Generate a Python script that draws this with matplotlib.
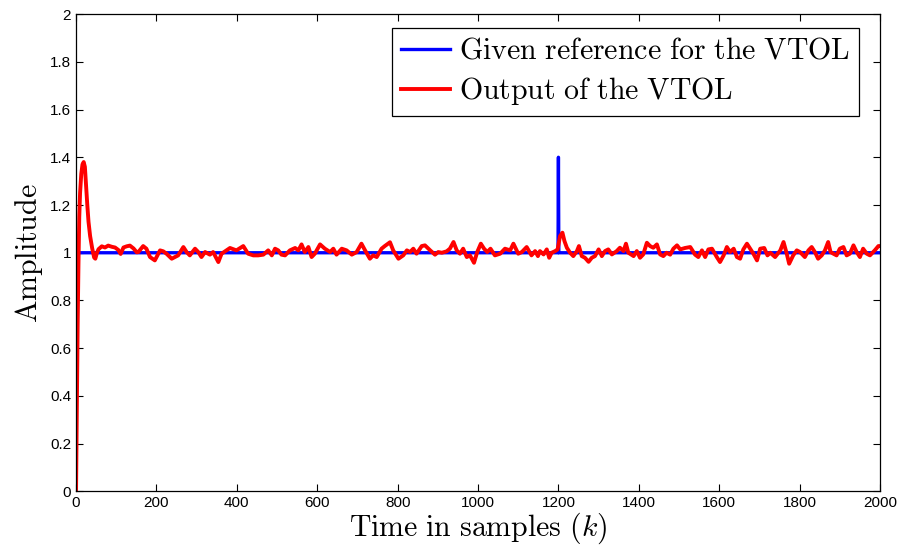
#!/usr/bin/env python

import matplotlib
matplotlib.use('Agg')
import matplotlib.pyplot as plt

# Data
refK   = [0, 1199, 1200, 1201, 2000]
refV   = [1.0, 1.0, 1.4, 1.0, 1.0]

outK   = [0, 2, 4, 6, 8, 10, 13, 16, 19, 22, 25, 28, 31, 35, 40, 45, 48, 52, 56,
          64, 72, 80, 89, 97, 105, 111, 118, 126, 134, 143, 151,
          155, 167, 175, 184, 196, 209, 217, 225, 238, 246, 254, 267, 275, 283,
          296, 304, 312, 321, 333, 341, 354, 362, 374, 383, 399, 416, 428, 441,
          453, 466,
          478, 487, 495, 503, 511, 520, 532, 545, 553, 561, 569, 578, 586, 594,
          607, 619, 632, 640, 648, 661, 673, 686, 698, 710, 719, 731, 739, 748,
          760, 768, 781, 789, 802,
          814, 823, 831, 839, 847, 860, 868, 881, 893, 901, 910, 922, 930, 939,
          947, 955, 963, 972, 980, 990, 998, 1007, 1015, 1023, 1031, 1042, 1055,
          1067, 1080, 1088, 1100, 1109, 1121, 1133,
          1142, 1149, 1154, 1163, 1171, 1177, 1183, 1192, 1198, 1204, 1210, 1215,
          1221, 1229, 1237, 1246, 1251, 1258, 1266, 1275, 1283, 1291, 1300, 1308,
          1316, 1324, 1333, 1345, 1353, 1362, 1368, 1374, 1387, 1395, 1403, 1411,
          1420, 1428, 1436, 1445, 1453, 1461, 1469,
          1478, 1486, 1495, 1503, 1515, 1528, 1540, 1548, 1557, 1565, 1573, 1582,
          1594, 1602, 1611, 1619, 1627, 1636, 1644, 1652, 1660, 1669, 1677, 1685,
          1694, 1702, 1712, 1720, 1727, 1739, 1752, 1760, 1768, 1774,
          1784, 1793, 1801, 1813, 1822, 1830, 1838, 1846, 1855, 1863, 1871, 1877,
          1884, 1892, 1900, 1909, 1917, 1925, 1934, 1942, 1950, 1958, 1967, 1975,
          1987, 1996, 2000]
outV   = [0.0, 0.35, 0.70, 0.95, 1.15, 1.25, 1.33, 1.37, 1.38, 1.36, 1.28, 1.20,
          1.13, 1.07, 1.02, 0.98, 0.975, 1.0, 1.015,
          1.027, 1.022, 1.030, 1.025, 1.022, 1.012, 0.995, 1.022, 1.027, 1.030,
          1.018, 1.002,
          1.003, 1.028, 1.017, 0.982, 0.968, 1.010, 1.006, 0.996, 0.975, 0.982,
          0.989, 1.024, 1.003, 0.989, 1.017, 1.003, 0.982, 1.003, 0.992, 1.003,
          0.961, 0.996, 1.010, 1.020, 1.010, 1.028, 0.996, 0.989, 0.989, 0.992,
          1.010, 0.989, 1.017, 1.010, 0.992, 0.989, 1.010, 1.020, 1.010, 1.035,
          1.003, 1.024, 0.982, 0.996, 1.035, 1.017, 1.003, 1.017, 0.992, 1.017,
          1.010, 0.992, 1.003, 1.038, 1.010, 0.975, 0.989, 0.982, 1.017, 1.028,
          1.044, 1.010, 0.975,
          0.989, 1.010, 1.003, 1.017, 0.996, 1.028, 1.031, 1.010, 0.992, 1.003,
          1.000, 1.006, 1.017, 1.045, 1.010, 0.996, 1.017, 0.982, 0.989, 0.958,
          1.003, 1.038, 1.017, 1.003, 1.017, 0.989, 0.996, 1.017, 1.010, 1.038,
          0.996, 1.003, 1.024, 0.989,
          1.007, 0.986, 1.007, 0.993, 1.014, 0.979, 1.000, 1.007, 1.014, 1.070,
          1.084, 1.049, 1.021, 1.000, 0.986, 1.007, 1.028, 0.986, 0.979, 0.962,
          0.979, 0.986, 1.014, 0.986, 1.007, 1.014, 0.993, 1.007, 1.021, 1.007,
          1.038, 1.000, 0.986, 1.007, 0.979, 0.993, 1.042, 1.028, 1.021, 1.035,
          0.993, 0.986, 1.000,
          0.992, 1.017, 1.031, 1.014, 1.020, 1.024, 0.992, 0.982, 1.010, 0.982,
          1.014, 1.017, 0.982, 0.961, 0.989, 1.024, 1.003, 1.017, 0.982, 0.975,
          1.014, 1.038, 1.017, 0.996, 0.968, 1.017, 1.020, 0.989, 1.000, 0.982,
          1.010, 1.045, 0.996, 0.954,
          0.989, 1.010, 1.003, 0.982, 1.010, 1.024, 1.003, 0.975, 0.989, 1.010,
          1.045, 1.003, 0.996, 0.989, 1.017, 1.024, 0.989, 0.996, 1.031, 1.003,
          0.982, 1.017, 0.996, 0.989, 1.010, 1.028, 1.028]

xTicks      = [0, 200, 400, 600, 800, 1000, 1200, 1400, 1600, 1800, 2000]
xTickLabels = ['0', '200', '400', '600', '800', '1000', '1200', '1400', '1600', '1800', '2000']
yTicks      = [0, 0.2, 0.4, 0.6, 0.8, 1.0, 1.2, 1.4, 1.6, 1.8, 2.0]
yTickLabels = ['0', '0.2', '0.4', '0.6', '0.8', '1', '1.2', '1.4', '1.6', '1.8', '2']

refLabel = r'$\mathrm{Given\ reference\ for\ the\ VTOL}$'
outLabel = r'$\mathrm{Output\ of\ the\ VTOL}$'

plt.rcParams['mathtext.fontset'] = 'cm'
plt.rcParams['font.family']      = ['Liberation Sans', 'DejaVu Sans']

figure = plt.figure(figsize=(9.01, 5.5), dpi=100)
ax     = figure.add_axes([0.0844, 0.1064, 0.8923, 0.8681])

ax.plot(refK, refV, color='#0000ff', lw=2.4, label=refLabel)
ax.plot(outK, outV, color='#ff0000', lw=2.8, label=outLabel)

ax.set_xlim(0, 2000)
ax.set_ylim(0, 2)
ax.set_xticks(xTicks)
ax.set_xticklabels(xTickLabels)
ax.set_yticks(yTicks)
ax.set_yticklabels(yTickLabels)
ax.tick_params(direction='in', top=True, right=True, length=5, width=0.8,
               labelsize=11, colors='black')
for s in ax.spines.values():
    s.set_linewidth(0.9)

ax.set_xlabel(r'$\mathrm{Time\ in\ samples\ }(k)$', fontsize=21.5, labelpad=0)
ax.set_ylabel(r'$\mathrm{Amplitude}$', fontsize=21.5, labelpad=4)

leg = ax.legend(loc='upper right', fontsize=21.5, fancybox=False, framealpha=1,
                edgecolor='black', handlelength=1.65, handletextpad=0.3,
                borderpad=0.3, labelspacing=0.35, borderaxespad=0,
                bbox_to_anchor=(859 / 901, 1 - 28 / 550),
                bbox_transform=figure.transFigure)
leg.get_frame().set_linewidth(0.9)

plt.savefig('out.png', dpi=100)
plt.close()
